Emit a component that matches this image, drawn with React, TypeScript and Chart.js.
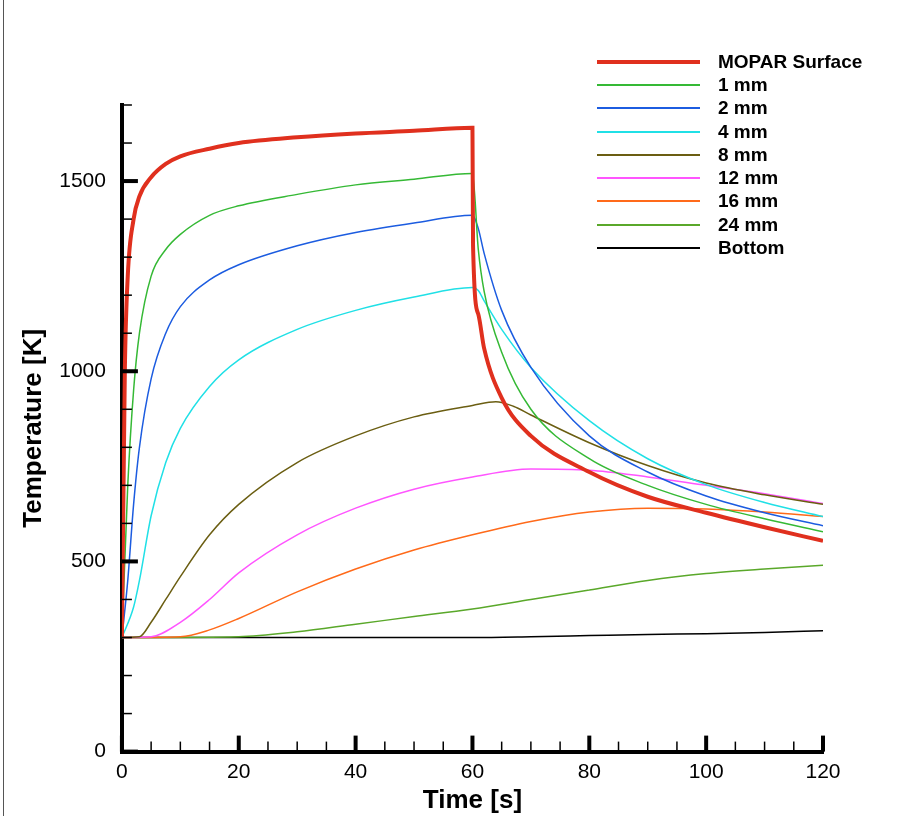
import React, { useEffect, useRef } from 'react';
import { Chart, registerables } from 'chart.js';

Chart.register(...registerables);

const seriesNames = ['MOPAR Surface', '1 mm', '2 mm', '4 mm', '8 mm', '12 mm', '16 mm', '24 mm', 'Bottom'];
const seriesColors = ['#e0301e', '#35b935', '#1c5ce0', '#20e0e6', '#6b5e12', '#ff55ff', '#ff6a1a', '#5aa82a', '#000000'];

const surfaceT = [0, 0.5, 1, 2, 3, 5, 7.5, 10, 15, 20, 30, 40, 50, 60, 60.1, 61, 62, 65, 70, 80, 90, 100, 110, 120];
const surfaceV = [300, 1000, 1250, 1400, 1460, 1510, 1545, 1565, 1585, 1600, 1615, 1625, 1632, 1640, 1330, 1150, 1060, 930, 830, 735, 670, 628, 590, 554];

const mm1T = [0, 1, 2, 3, 5, 7.5, 10, 15, 20, 30, 40, 50, 60, 61, 62, 65, 70, 80, 90, 100, 110, 120];
const mm1V = [300, 700, 950, 1100, 1250, 1320, 1360, 1410, 1435, 1465, 1490, 1505, 1520, 1320, 1210, 1050, 900, 770, 700, 650, 612, 578];

const mm2T = [0, 1, 2, 3, 5, 7.5, 10, 15, 20, 30, 40, 50, 60, 61, 62, 65, 70, 80, 90, 100, 110, 120];
const mm2V = [300, 450, 650, 800, 980, 1100, 1170, 1240, 1280, 1330, 1365, 1390, 1410, 1375, 1310, 1160, 1010, 830, 735, 672, 628, 594];

const mm4T = [0, 2, 3, 5, 7.5, 10, 15, 20, 30, 40, 50, 60, 61, 62, 65, 70, 80, 90, 100, 110, 120];
const mm4V = [300, 380, 450, 620, 760, 850, 960, 1030, 1110, 1160, 1195, 1220, 1212, 1185, 1110, 1010, 870, 770, 702, 655, 618];

const mm8T = [0, 3, 5, 7.5, 10, 15, 20, 30, 40, 50, 60, 64, 67, 70, 80, 90, 100, 110, 120];
const mm8V = [300, 302, 340, 400, 460, 570, 650, 760, 830, 880, 910, 920, 908, 885, 812, 752, 706, 675, 650];

const mm12T = [0, 5, 10, 15, 20, 30, 40, 50, 60, 70, 80, 90, 100, 110, 120];
const mm12V = [300, 302, 340, 400, 470, 570, 640, 690, 722, 743, 740, 722, 700, 678, 652];

const mm16T = [0, 10, 15, 20, 30, 40, 50, 60, 70, 80, 90, 100, 110, 120];
const mm16V = [300, 302, 320, 350, 420, 480, 530, 570, 605, 630, 640, 638, 630, 618];

const mm24T = [0, 20, 30, 40, 50, 60, 70, 80, 90, 100, 110, 120];
const mm24V = [300, 302, 315, 335, 355, 375, 400, 425, 450, 468, 480, 490];

const bottomT = [0, 60, 70, 80, 90, 100, 110, 120];
const bottomV = [300, 300, 302, 305, 308, 310, 313, 318];

const allT = [surfaceT, mm1T, mm2T, mm4T, mm8T, mm12T, mm16T, mm24T, bottomT];
const allV = [surfaceV, mm1V, mm2V, mm4V, mm8V, mm12V, mm16V, mm24V, bottomV];

// inward tick marks, major ones longer and thicker
const innerTicks = {
  id: 'innerTicks',
  afterDatasetsDraw(chart: any) {
    const { ctx, chartArea, scales } = chart;
    ctx.save();
    ctx.strokeStyle = '#000';
    scales.x.ticks.forEach((t: any) => {
      const px = scales.x.getPixelForValue(t.value);
      const major = t.value % 20 === 0;
      ctx.lineWidth = major ? 4 : 1.5;
      ctx.beginPath();
      ctx.moveTo(px, chartArea.bottom);
      ctx.lineTo(px, chartArea.bottom - (major ? 16 : 10));
      ctx.stroke();
    });
    scales.y.ticks.forEach((t: any) => {
      const py = scales.y.getPixelForValue(t.value);
      const major = t.value % 500 === 0;
      ctx.lineWidth = major ? 4 : 1.5;
      ctx.beginPath();
      ctx.moveTo(chartArea.left, py);
      ctx.lineTo(chartArea.left + (major ? 16 : 10), py);
      ctx.stroke();
    });
    ctx.restore();
  },
};

const App: React.FC = () => {
  const canvasRef = useRef<HTMLCanvasElement>(null);

  useEffect(() => {
    const font = { family: 'Liberation Sans, Arial, sans-serif', size: 21 };
    const chart = new Chart(canvasRef.current!, {
      type: 'line',
      data: {
        datasets: seriesNames.map((name, i) => ({
          label: name,
          data: allT[i].map((t, j) => ({ x: t, y: allV[i][j] })),
          borderColor: seriesColors[i],
          borderWidth: i === 0 ? 4 : 1.5,
          pointRadius: 0,
          cubicInterpolationMode: 'monotone' as const,
          fill: false,
        })),
      },
      options: {
        animation: false,
        responsive: false,
        layout: { padding: { top: 105, right: 76, left: 16, bottom: 0 } },
        plugins: { legend: { display: false }, tooltip: { enabled: false } },
        scales: {
          x: {
            type: 'linear',
            min: 0,
            max: 120,
            border: { color: '#000', width: 4 },
            grid: { display: false },
            ticks: {
              stepSize: 5,
              color: '#000',
              font,
              padding: 0,
              maxRotation: 0,
              autoSkip: false,
              callback: (v: any) => (v % 20 === 0 ? String(v) : ''),
            },
            title: { display: true, text: 'Time [s]', color: '#000', font: { ...font, size: 26, weight: 'bold' }, padding: 0 },
          },
          y: {
            min: 0,
            max: 1700,
            border: { color: '#000', width: 4 },
            grid: { display: false },
            ticks: {
              stepSize: 100,
              color: '#000',
              font,
              padding: 8,
              autoSkip: false,
              callback: (v: any) => (v % 500 === 0 ? String(v) : ''),
            },
            title: { display: true, text: 'Temperature [K]', color: '#000', font: { ...font, size: 26, weight: 'bold' }, padding: 2 },
          },
        },
      },
      plugins: [innerTicks],
    });
    return () => chart.destroy();
  }, []);

  return (
    <div style={{ position: 'absolute', left: 0, top: 0, width: 899, height: 816, background: '#fff' }}>
      <div style={{ position: 'absolute', left: 3, top: 0, width: 1, height: 816, background: '#555' }} />
      <canvas ref={canvasRef} width={899} height={816} style={{ position: 'absolute', left: 0, top: 0 }} />
      <div style={{ position: 'absolute', left: 597, top: 50, fontFamily: 'Liberation Sans, Arial, sans-serif', fontWeight: 'bold', fontSize: 19 }}>
        {seriesNames.map((n, i) => (
          <div key={n} style={{ display: 'flex', alignItems: 'center', height: 23.3 }}>
            <div style={{ width: 103, height: i === 0 ? 4 : 2, background: seriesColors[i], marginRight: 18 }} />
            <span>{n}</span>
          </div>
        ))}
      </div>
    </div>
  );
};

export default App;
